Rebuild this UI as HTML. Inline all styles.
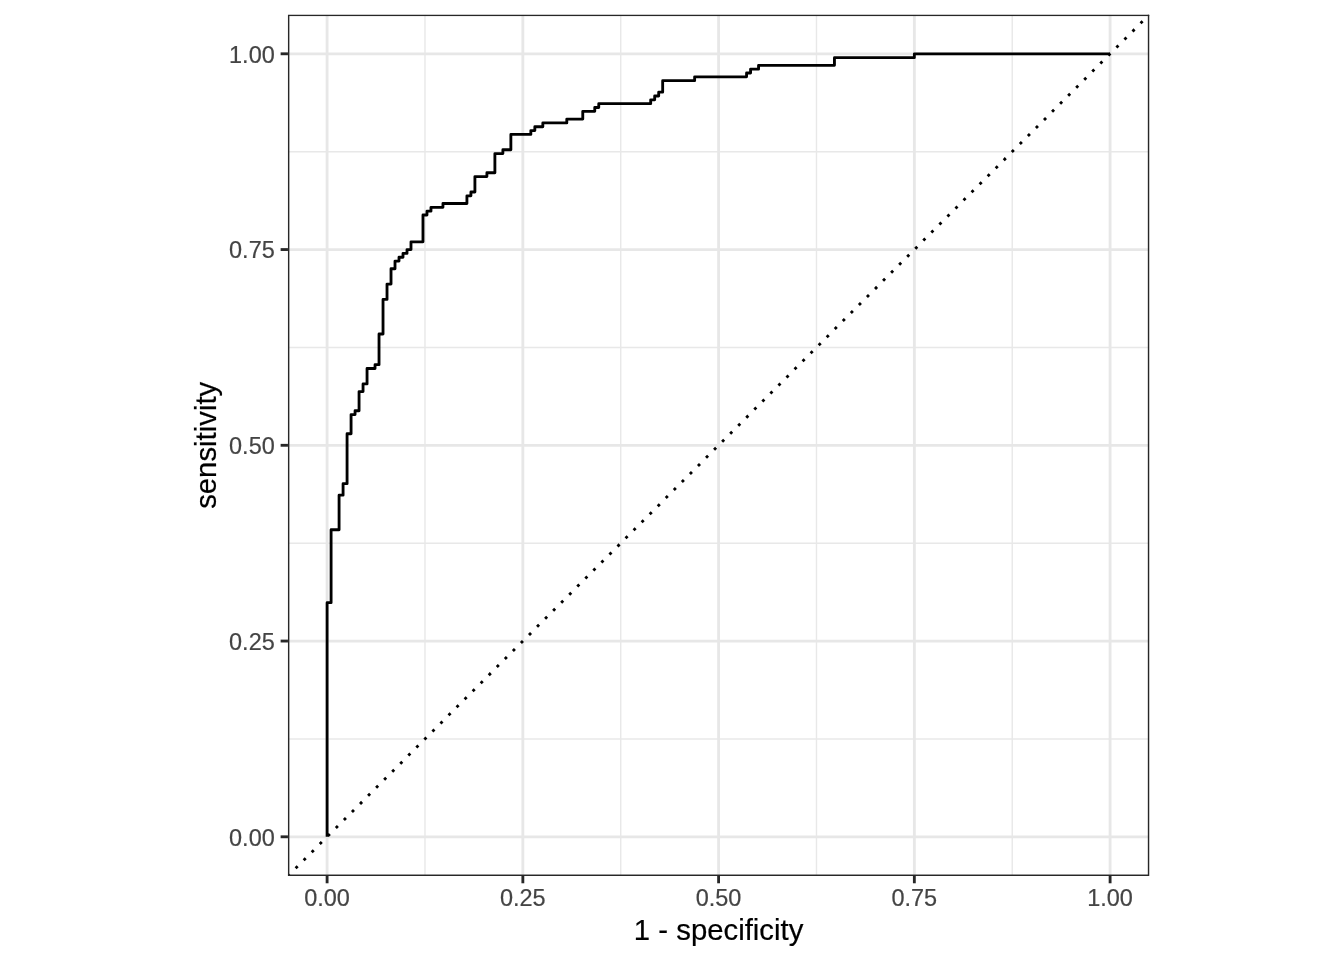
<!DOCTYPE html>
<html lang="en"><head><meta charset="utf-8"><title>ROC curve</title>
<style>
html,body{margin:0;padding:0;background:#fff;}
body{width:1344px;height:960px;overflow:hidden;}
svg{display:block;}
text{font-family:"Liberation Sans",Arial,Helvetica,sans-serif;}
.tk{font-size:23.47px;fill:#444444;stroke:#444444;stroke-width:0.2px;}
.tt{font-size:29.33px;fill:#000;stroke:#000;stroke-width:0.2px;}
</style></head><body>
<svg width="1344" height="960" viewBox="0 0 1344 960">
<rect x="0" y="0" width="1344" height="960" fill="#ffffff"/>
<defs><clipPath id="pc"><rect x="287.95" y="14.65" width="861.30" height="861.30"/></clipPath></defs>
<g clip-path="url(#pc)">
<rect x="287.95" y="14.65" width="861.30" height="861.30" fill="#ffffff"/>
<line x1="287.95" x2="1149.25" y1="738.92" y2="738.92" stroke="#e8e8e8" stroke-width="1.423"/>
<line y1="14.65" y2="875.95" x1="424.98" x2="424.98" stroke="#e8e8e8" stroke-width="1.423"/>
<line x1="287.95" x2="1149.25" y1="543.17" y2="543.17" stroke="#e8e8e8" stroke-width="1.423"/>
<line y1="14.65" y2="875.95" x1="620.73" x2="620.73" stroke="#e8e8e8" stroke-width="1.423"/>
<line x1="287.95" x2="1149.25" y1="347.42" y2="347.42" stroke="#e8e8e8" stroke-width="1.423"/>
<line y1="14.65" y2="875.95" x1="816.48" x2="816.48" stroke="#e8e8e8" stroke-width="1.423"/>
<line x1="287.95" x2="1149.25" y1="151.67" y2="151.67" stroke="#e8e8e8" stroke-width="1.423"/>
<line y1="14.65" y2="875.95" x1="1012.23" x2="1012.23" stroke="#e8e8e8" stroke-width="1.423"/>
<line x1="287.95" x2="1149.25" y1="836.80" y2="836.80" stroke="#e7e7e7" stroke-width="2.845"/>
<line y1="14.65" y2="875.95" x1="327.10" x2="327.10" stroke="#e7e7e7" stroke-width="2.845"/>
<line x1="287.95" x2="1149.25" y1="641.05" y2="641.05" stroke="#e7e7e7" stroke-width="2.845"/>
<line y1="14.65" y2="875.95" x1="522.85" x2="522.85" stroke="#e7e7e7" stroke-width="2.845"/>
<line x1="287.95" x2="1149.25" y1="445.30" y2="445.30" stroke="#e7e7e7" stroke-width="2.845"/>
<line y1="14.65" y2="875.95" x1="718.60" x2="718.60" stroke="#e7e7e7" stroke-width="2.845"/>
<line x1="287.95" x2="1149.25" y1="249.55" y2="249.55" stroke="#e7e7e7" stroke-width="2.845"/>
<line y1="14.65" y2="875.95" x1="914.35" x2="914.35" stroke="#e7e7e7" stroke-width="2.845"/>
<line x1="287.95" x2="1149.25" y1="53.80" y2="53.80" stroke="#e7e7e7" stroke-width="2.845"/>
<line y1="14.65" y2="875.95" x1="1110.10" x2="1110.10" stroke="#e7e7e7" stroke-width="2.845"/>
<polyline points="327.10,836.80 327.10,602.67 331.09,602.67 331.09,529.74 339.08,529.74 339.08,495.20 343.08,495.20 343.08,483.68 347.07,483.68 347.07,433.79 351.07,433.79 351.07,414.59 355.06,414.59 355.06,410.76 359.06,410.76 359.06,391.56 363.05,391.56 363.05,383.89 367.05,383.89 367.05,368.54 375.04,368.54 375.04,364.70 379.03,364.70 379.03,333.99 383.03,333.99 383.03,299.45 387.02,299.45 387.02,284.09 391.02,284.09 391.02,268.74 395.01,268.74 395.01,261.06 399.01,261.06 399.01,257.23 403.00,257.23 403.00,253.39 407.00,253.39 407.00,249.55 410.99,249.55 410.99,241.87 422.98,241.87 422.98,215.01 426.97,215.01 426.97,211.17 430.97,211.17 430.97,207.33 442.95,207.33 442.95,203.49 466.92,203.49 466.92,195.81 470.92,195.81 470.92,191.98 474.91,191.98 474.91,176.62 486.90,176.62 486.90,172.79 494.89,172.79 494.89,153.59 502.88,153.59 502.88,149.76 510.87,149.76 510.87,134.40 530.84,134.40 530.84,130.56 534.83,130.56 534.83,126.73 542.82,126.73 542.82,122.89 566.79,122.89 566.79,119.05 582.77,119.05 582.77,111.37 594.76,111.37 594.76,107.54 598.75,107.54 598.75,103.70 650.69,103.70 650.69,99.86 654.68,99.86 654.68,96.02 658.68,96.02 658.68,92.18 662.67,92.18 662.67,80.67 694.63,80.67 694.63,76.83 746.56,76.83 746.56,72.99 750.56,72.99 750.56,69.15 758.55,69.15 758.55,65.31 834.45,65.31 834.45,57.64 914.35,57.64 914.35,53.80 1110.10,53.80" fill="none" stroke="#000" stroke-width="2.845" stroke-linejoin="round" stroke-linecap="butt"/>
<line x1="287.95" y1="875.95" x2="1149.25" y2="14.65" stroke="#000" stroke-width="2.845" stroke-dasharray="2.845 8.535" stroke-dashoffset="0.5"/>
<rect x="287.95" y="14.65" width="861.30" height="861.30" fill="none" stroke="#272727" stroke-width="2.845"/>
</g>
<line x1="280.62" x2="287.95" y1="836.80" y2="836.80" stroke="#272727" stroke-width="2.845"/>
<line y1="875.95" y2="883.28" x1="327.10" x2="327.10" stroke="#272727" stroke-width="2.845"/>
<text class="tk" text-anchor="end" x="274.75" y="845.60">0.00</text>
<text class="tk" text-anchor="middle" x="327.10" y="906.4">0.00</text>
<line x1="280.62" x2="287.95" y1="641.05" y2="641.05" stroke="#272727" stroke-width="2.845"/>
<line y1="875.95" y2="883.28" x1="522.85" x2="522.85" stroke="#272727" stroke-width="2.845"/>
<text class="tk" text-anchor="end" x="274.75" y="649.85">0.25</text>
<text class="tk" text-anchor="middle" x="522.85" y="906.4">0.25</text>
<line x1="280.62" x2="287.95" y1="445.30" y2="445.30" stroke="#272727" stroke-width="2.845"/>
<line y1="875.95" y2="883.28" x1="718.60" x2="718.60" stroke="#272727" stroke-width="2.845"/>
<text class="tk" text-anchor="end" x="274.75" y="454.10">0.50</text>
<text class="tk" text-anchor="middle" x="718.60" y="906.4">0.50</text>
<line x1="280.62" x2="287.95" y1="249.55" y2="249.55" stroke="#272727" stroke-width="2.845"/>
<line y1="875.95" y2="883.28" x1="914.35" x2="914.35" stroke="#272727" stroke-width="2.845"/>
<text class="tk" text-anchor="end" x="274.75" y="258.35">0.75</text>
<text class="tk" text-anchor="middle" x="914.35" y="906.4">0.75</text>
<line x1="280.62" x2="287.95" y1="53.80" y2="53.80" stroke="#272727" stroke-width="2.845"/>
<line y1="875.95" y2="883.28" x1="1110.10" x2="1110.10" stroke="#272727" stroke-width="2.845"/>
<text class="tk" text-anchor="end" x="274.75" y="62.60">1.00</text>
<text class="tk" text-anchor="middle" x="1110.10" y="906.4">1.00</text>
<text class="tt" text-anchor="middle" x="718.60" y="939.7">1 - specificity</text>
<text class="tt" text-anchor="middle" transform="translate(216.3,445.30) rotate(-90)">sensitivity</text>
</svg>
</body></html>
